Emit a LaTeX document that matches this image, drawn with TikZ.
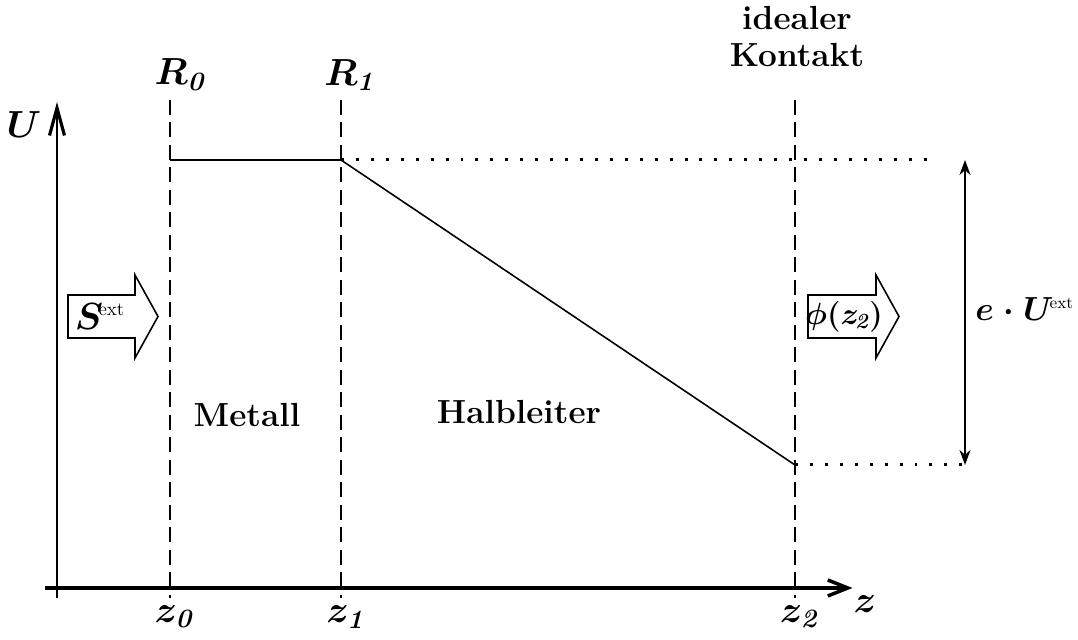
\RequirePackage{fix-cm}
\documentclass[tikz,border=0pt]{standalone}
\usepackage{amsmath,bm}
\usetikzlibrary{arrows.meta,positioning}

\begin{document}
\begin{tikzpicture}[
    lbl/.style={font=\fontsize{19}{21}\selectfont\bfseries, inner sep=1pt},
    mlbl/.style={font=\fontsize{21.5}{24}\selectfont\bfseries, inner sep=1pt},
    uaxis/.style={line width=1.2pt, -{Straight Barb[length=0.55cm, width=0.3cm, line width=1.8pt]}},
    zaxis/.style={line width=1.8pt, -{Straight Barb[length=0.4cm, width=0.32cm, line width=2pt]}},
    boundary/.style={line width=1.5pt, dash pattern=on 8.5pt off 4.3pt},
    profile/.style={line width=0.9pt},
    guide/.style={line width=1.7pt, dash pattern=on 1.7pt off 6.8pt},
    gap/.style={line width=1.1pt, {Stealth[length=0.3cm, width=0.22cm]}-{Stealth[length=0.3cm, width=0.22cm]}},
    flux/.style={draw=black, line width=0.9pt, fill=white}]

    \useasboundingbox (0,0) rectangle (21.56,12.8);

    % Axes
    \coordinate (Ubot) at (1.14,0.84);
    \coordinate (Utop) at (1.14,10.76);
    \coordinate (zstart) at (0.9,1.04);
    \coordinate (zend) at (17.05,1.04);
    \draw[uaxis] (Ubot) -- (Utop);
    \draw[zaxis] (zstart) -- (zend);
    \node[mlbl] (Ulab) at (0.48,10.3) {$\bm{U}$};
    \node[mlbl] (zlab) at (17.3,0.72) {$\bm{z}$};

    % Boundaries
    \foreach \x/\i in {3.4/0, 6.82/1, 15.9/2} {
        \coordinate (top\i) at (\x,10.8);
        \coordinate (bot\i) at (\x,0.84);
        \draw[boundary] (top\i) -- (bot\i);
        \node[mlbl] (zl\i) at (\x+0.08,0.46) {$\bm{z}_{\textbf{\textit{\i}}}$};
    }
    \node[mlbl] (R0) at (3.6,11.3) {$\bm{R}_{\textbf{\textit{0}}}$};
    \node[mlbl] (R1) at (6.98,11.3) {$\bm{R}_{\textbf{\textit{1}}}$};
    \node[lbl, align=center] (kontakt) at (15.94,12.07) {idealer\\Kontakt};

    % Potential profile
    \coordinate (m0) at (3.4,9.6);
    \coordinate (m1) at (6.82,9.6);
    \coordinate (s2) at (15.9,3.5);
    \draw[profile] (m0) -- (m1) -- (s2);

    % Reference levels
    \coordinate (d1) at (18.7,9.6);
    \coordinate (d2) at (19.3,3.5);
    \draw[guide] (m1) -- (d1);
    \draw[guide] (s2) -- (d2);

    % Applied voltage
    \coordinate (vt) at (19.3,9.6);
    \coordinate (vb) at (19.3,3.5);
    \draw[gap] (vt) -- (vb);
    \node[lbl, anchor=west, inner sep=0pt] (Uext) at (19.5,6.62)
        {$\bm{e}\mkern1mu\bm{\cdot}\mkern1mu\bm{U}^{\mkern-3mu\scriptscriptstyle\mathrm{ext}}$};

    % Flux arrows
    \draw[flux] (1.36,6.9) -- (2.7,6.9) -- (2.7,7.3) -- (3.16,6.47)
        -- (2.7,5.64) -- (2.7,6.04) -- (1.36,6.04) -- cycle;
    \node[mlbl] (Sext) at (2.0,6.47) {$\bm{S}^{\!\scriptscriptstyle\mathrm{ext}}$};
    \draw[flux] (16.16,6.9) -- (17.52,6.9) -- (17.52,7.3) -- (17.98,6.47)
        -- (17.52,5.64) -- (17.52,6.04) -- (16.16,6.04) -- cycle;
    \node[inner sep=0pt, font=\fontsize{17.5}{20}\selectfont\bfseries] (phi) at (16.88,6.47)
        {$\bm{\phi(z}_{\mkern-2mu\textbf{\textit{2}}}\bm{)}$};

    % Regions
    \node[lbl] (metall) at (4.94,4.5) {Metall};
    \node[lbl] (halbl) at (10.38,4.56) {Halbleiter};

\end{tikzpicture}
\end{document}
